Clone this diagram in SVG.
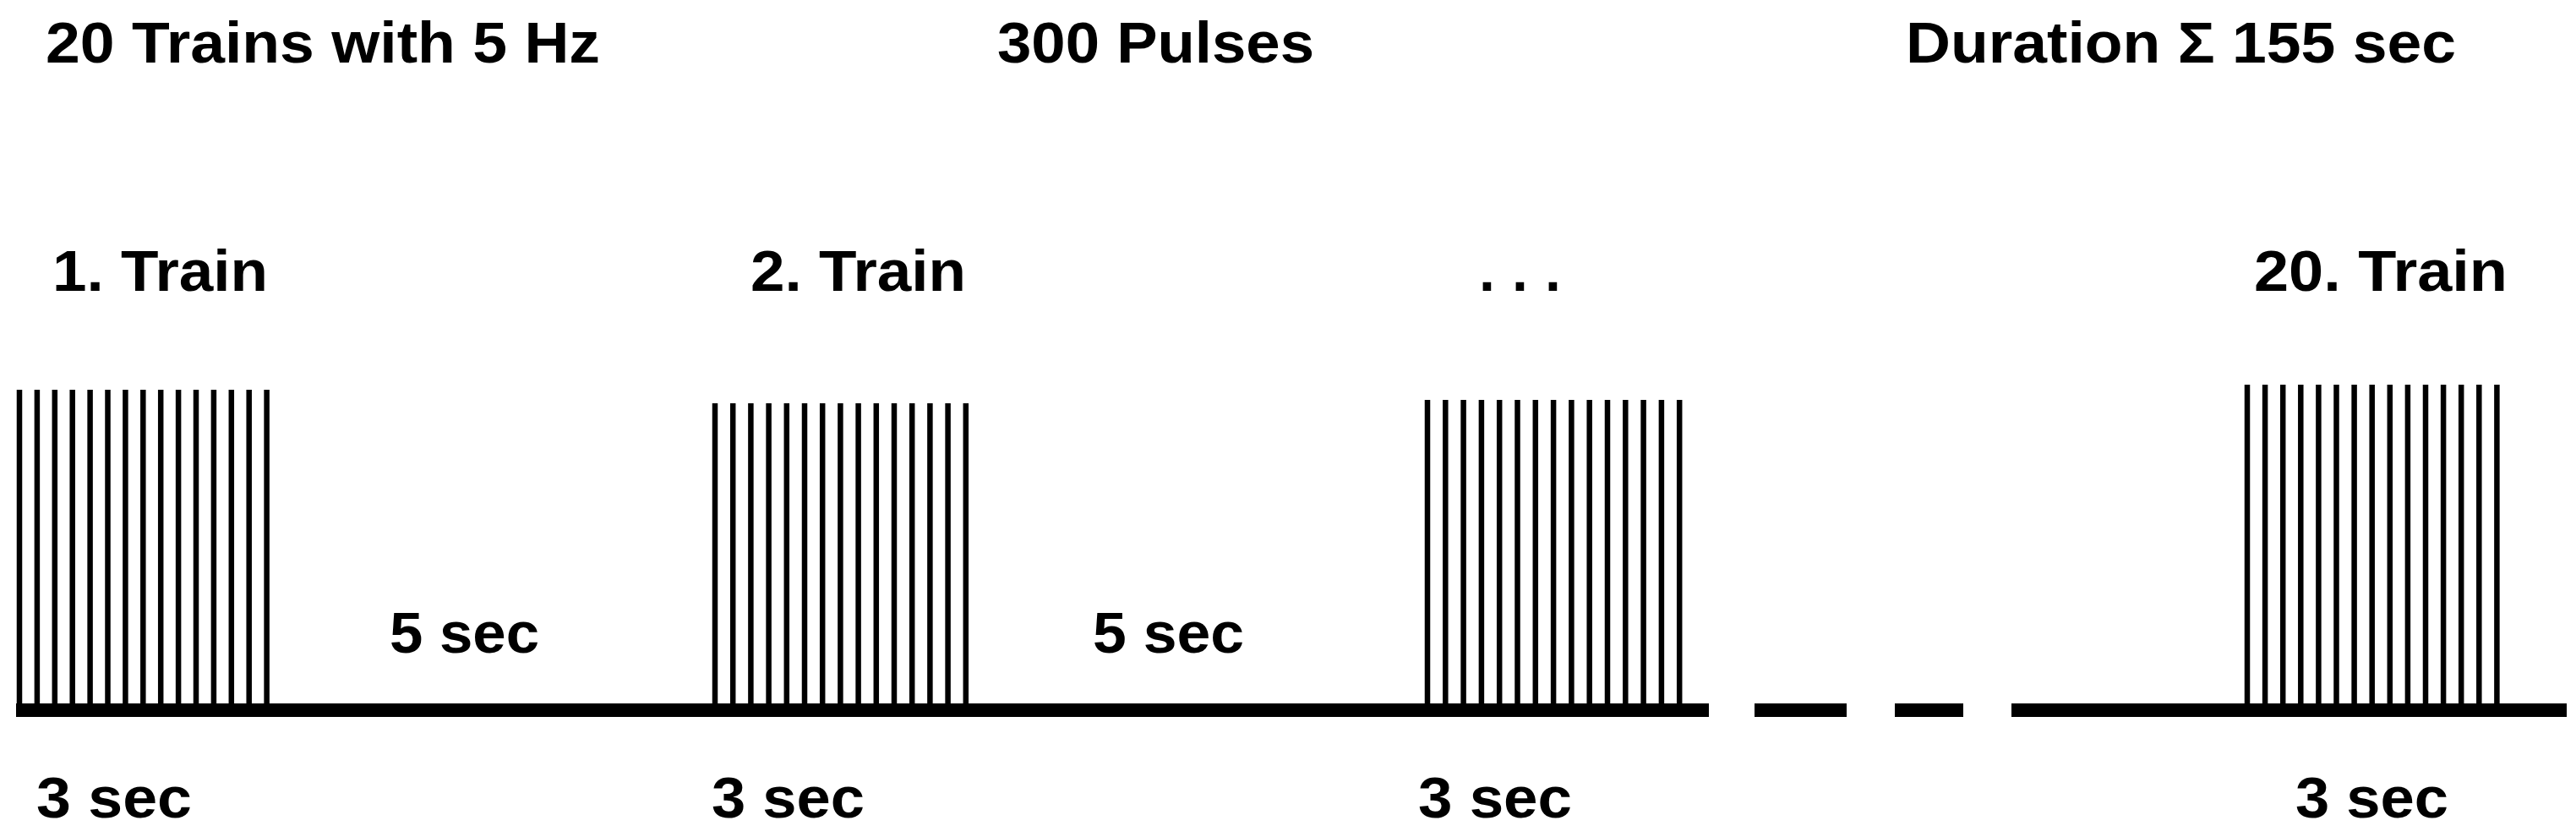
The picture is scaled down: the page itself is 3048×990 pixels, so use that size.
<svg xmlns="http://www.w3.org/2000/svg" width="3048" height="990" viewBox="0 0 3048 990">
<style>
text{font-family:"Liberation Sans",Arial,sans-serif;font-weight:bold;font-size:68px;fill:#000}
.p{stroke:#000;stroke-width:6.5;fill:none}
.ax{stroke:#000;stroke-width:16;fill:none}
</style>
<rect width="3048" height="990" fill="#fff"/>
<g id="titles">
<text x="54" y="74" textLength="656" lengthAdjust="spacingAndGlyphs">20 Trains with 5 Hz</text>
<text x="1180" y="74" textLength="375" lengthAdjust="spacingAndGlyphs">300 Pulses</text>
<text x="2255" y="74" textLength="651" lengthAdjust="spacingAndGlyphs">Duration Σ 155 sec</text>
</g>
<g id="connectors">
<path class="ax" d="M19,840 H2022 M2076,840 H2185 M2242,840 H2323 M2380,840 H3037"/>
</g>
<g id="train1">
<text x="62" y="344" textLength="255" lengthAdjust="spacingAndGlyphs">1. Train</text>
<path class="p" d="M23,461 v379 m20.9,-379 v379 m20.9,-379 v379 m20.9,-379 v379 m20.9,-379 v379 m20.9,-379 v379 m20.9,-379 v379 m20.9,-379 v379 m20.9,-379 v379 m20.9,-379 v379 m20.9,-379 v379 m20.9,-379 v379 m20.9,-379 v379 m20.9,-379 v379 m20.9,-379 v379"/>
<text x="43" y="967" textLength="184" lengthAdjust="spacingAndGlyphs">3 sec</text>
</g>
<g id="gap1"><text x="461" y="772" textLength="177" lengthAdjust="spacingAndGlyphs">5 sec</text></g>
<g id="train2">
<text x="888" y="344" textLength="255" lengthAdjust="spacingAndGlyphs">2. Train</text>
<path class="p" d="M846,477 v363 m21.2,-363 v363 m21.2,-363 v363 m21.2,-363 v363 m21.2,-363 v363 m21.2,-363 v363 m21.2,-363 v363 m21.2,-363 v363 m21.2,-363 v363 m21.2,-363 v363 m21.2,-363 v363 m21.2,-363 v363 m21.2,-363 v363 m21.2,-363 v363 m21.2,-363 v363"/>
<text x="842" y="967" textLength="181" lengthAdjust="spacingAndGlyphs">3 sec</text>
</g>
<g id="gap2"><text x="1293" y="772" textLength="179" lengthAdjust="spacingAndGlyphs">5 sec</text></g>
<g id="train3">
<text x="1750" y="344" textLength="97" lengthAdjust="spacing">. . .</text>
<path class="p" d="M1689,473 v367 m21.3,-367 v367 m21.3,-367 v367 m21.3,-367 v367 m21.3,-367 v367 m21.3,-367 v367 m21.3,-367 v367 m21.3,-367 v367 m21.3,-367 v367 m21.3,-367 v367 m21.3,-367 v367 m21.3,-367 v367 m21.3,-367 v367 m21.3,-367 v367 m21.3,-367 v367"/>
<text x="1678" y="967" textLength="182" lengthAdjust="spacingAndGlyphs">3 sec</text>
</g>
<g id="train20">
<text x="2667" y="344" textLength="300" lengthAdjust="spacingAndGlyphs">20. Train</text>
<path class="p" d="M2659,455 v385 m21.1,-385 v385 m21.1,-385 v385 m21.1,-385 v385 m21.1,-385 v385 m21.1,-385 v385 m21.1,-385 v385 m21.1,-385 v385 m21.1,-385 v385 m21.1,-385 v385 m21.1,-385 v385 m21.1,-385 v385 m21.1,-385 v385 m21.1,-385 v385 m21.1,-385 v385"/>
<text x="2716" y="967" textLength="181" lengthAdjust="spacingAndGlyphs">3 sec</text>
</g>
</svg>
